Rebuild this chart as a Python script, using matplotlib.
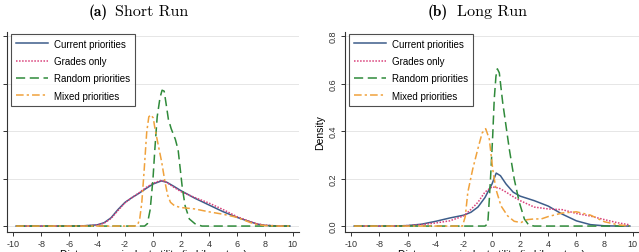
import matplotlib
matplotlib.use('Agg')
import matplotlib.pyplot as plt

plt.rcParams['font.family'] = ['Liberation Sans', 'DejaVu Sans']

# values (density by distance-equivalent utility)
series = ['Current priorities', 'Grades only', 'Random priorities', 'Mixed priorities']

# short run
sr_cur_x = [-9.8, -6, -5, -4, -3.5, -3, -2.5, -2, -1.5, -1, -0.5, 0, 0.6, 1, 1.5, 2, 3, 4, 5, 6, 7, 7.5, 8, 9, 9.8]
sr_cur_y = [0, 0, 0.001, 0.005, 0.014, 0.035, 0.07, 0.1, 0.12, 0.138, 0.158, 0.177, 0.19, 0.184, 0.167, 0.149, 0.117, 0.089, 0.061, 0.037, 0.017, 0.008, 0.003, 0.0, 0]
sr_grd_x = [-9.8, -6, -5, -4, -3.5, -3, -2.5, -2, -1.5, -1, -0.5, 0, 0.6, 1, 1.5, 2, 3, 4, 5, 6, 7, 7.5, 8, 9, 9.8]
sr_grd_y = [0, 0, 0.001, 0.004, 0.012, 0.032, 0.066, 0.098, 0.12, 0.14, 0.162, 0.18, 0.193, 0.183, 0.163, 0.145, 0.12, 0.097, 0.07, 0.04, 0.018, 0.009, 0.004, 0.0, 0]
sr_rnd_x = [-9.8, -0.6, -0.4, -0.2, 0.0, 0.14, 0.3, 0.5, 0.65, 0.8, 0.95, 1.1, 1.3, 1.6, 1.8, 1.95, 2.1, 2.3, 2.6, 3.0, 3.5, 9.8]
sr_rnd_y = [0, 0, 0.01, 0.07, 0.2, 0.33, 0.46, 0.54, 0.572, 0.568, 0.51, 0.45, 0.41, 0.365, 0.32, 0.24, 0.16, 0.085, 0.03, 0.01, 0.0, 0]
sr_mix_x = [-9.8, -1.3, -1.1, -0.95, -0.8, -0.65, -0.45, -0.3, -0.15, 0.02, 0.14, 0.38, 0.62, 0.86, 1.05, 1.25, 1.55, 2, 3, 4, 5, 6, 7, 7.5, 8, 9, 9.8]
sr_mix_y = [0, 0, 0.005, 0.03, 0.1, 0.22, 0.395, 0.46, 0.468, 0.455, 0.41, 0.34, 0.27, 0.185, 0.13, 0.1, 0.085, 0.078, 0.072, 0.06, 0.05, 0.037, 0.014, 0.006, 0.002, 0.0, 0]

# long run
lr_cur_x = [-9.8, -7, -6, -5, -4, -3, -2, -1.5, -1, -0.5, 0, 0.3, 0.6, 1, 1.5, 2, 3, 4, 5, 6, 7, 8, 9, 9.8]
lr_cur_y = [0, 0, 0.002, 0.008, 0.02, 0.034, 0.046, 0.058, 0.08, 0.12, 0.177, 0.223, 0.212, 0.177, 0.143, 0.126, 0.107, 0.084, 0.05, 0.022, 0.006, 0.001, 0, 0]
lr_grd_x = [-9.8, -7, -6, -5, -4, -3, -2, -1.5, -1, -0.5, 0, 0.5, 1, 1.5, 2, 3, 4, 5, 6, 7, 8, 9, 9.8]
lr_grd_y = [0, 0, 0.002, 0.006, 0.013, 0.022, 0.043, 0.07, 0.1, 0.143, 0.165, 0.16, 0.143, 0.124, 0.107, 0.08, 0.072, 0.069, 0.053, 0.042, 0.027, 0.013, 0.005]
lr_rnd_x = [-9.8, -0.5, -0.3, -0.19, -0.07, 0.05, 0.16, 0.28, 0.38, 0.52, 0.76, 1.0, 1.23, 1.58, 1.94, 2.3, 2.6, 3.0, 9.8]
lr_rnd_y = [0, 0, 0.01, 0.114, 0.24, 0.38, 0.535, 0.63, 0.662, 0.645, 0.52, 0.42, 0.324, 0.198, 0.1, 0.03, 0.005, 0, 0]
lr_mix_x = [-9.8, -2.1, -1.9, -1.72, -1.37, -1.01, -0.7, -0.45, -0.19, 0.05, 0.28, 0.64, 1.11, 1.58, 2.06, 2.5, 3, 3.5, 4, 5, 6, 7, 8, 9, 9.8]
lr_mix_y = [0, 0, 0.04, 0.142, 0.24, 0.324, 0.392, 0.41, 0.366, 0.24, 0.155, 0.085, 0.043, 0.02, 0.015, 0.027, 0.03, 0.03, 0.04, 0.055, 0.06, 0.046, 0.018, 0.005, 0]

colors = ['#3d5d8a', '#d9407a', '#2f8a3a', '#f0a23c']
styles = [dict(ls='-', lw=1.1),
          dict(ls=(0, (1, 1)), lw=1.1),
          dict(ls=(0, (6, 3)), lw=1.1),
          dict(ls=(0, (5, 2, 1.5, 2)), lw=1.1)]

xticks = [-10, -8, -6, -4, -2, 0, 2, 4, 6, 8, 10]
yticks = [0.0, 0.2, 0.4, 0.6, 0.8]

fig = plt.figure(figsize=(6.39, 2.53), dpi=100)
ax1 = fig.add_axes([7/639, 20/253, 292/639, 200/253])
ax2 = fig.add_axes([345/639, 20/253, 294/639, 200/253])

panels = [
    (ax1, '(a)', 'Short Run', 0.346, 0.370,
     [(sr_cur_x, sr_cur_y), (sr_grd_x, sr_grd_y), (sr_rnd_x, sr_rnd_y), (sr_mix_x, sr_mix_y)]),
    (ax2, '(b)', 'Long Run', 0.349, 0.380,
     [(lr_cur_x, lr_cur_y), (lr_grd_x, lr_grd_y), (lr_rnd_x, lr_rnd_y), (lr_mix_x, lr_mix_y)]),
]

for ax, tag, title, xa, xb, data in panels:
    for (xs, ys), name, c, st in zip(data, series, colors, styles):
        ax.plot(xs, ys, color=c, label=name, **st)
    ax.set_xlim(-10.45, 10.45)
    ax.set_ylim(-0.025, 0.817)
    ax.set_xticks(xticks)
    ax.set_xticklabels([str(t) for t in xticks])
    ax.set_yticks(yticks)
    ax.grid(True, axis='y', color='#e6e6e6', lw=0.7)
    ax.set_axisbelow(True)
    for s in ['top', 'right']:
        ax.spines[s].set_visible(False)
    for s in ['left', 'bottom']:
        ax.spines[s].set_color('#333333')
        ax.spines[s].set_linewidth(0.8)
    ax.tick_params(direction='out', length=3, width=0.7, labelsize=6.5, colors='#333333', pad=2)
    ax.set_xlabel('Distance-equivalent utility (in kilometers)', fontsize=7.5, labelpad=1)
    # panel title: bold tag + roman text
    ax.text(xa, 1.085, tag, transform=ax.transAxes, family='cmb10', fontsize=11,
            ha='right', va='baseline')
    ax.text(xb, 1.085, title, transform=ax.transAxes, family='cmr10', fontsize=11.5,
            ha='left', va='baseline')
    leg = ax.legend(loc='upper left', bbox_to_anchor=(0.003, 1.005), fontsize=7, frameon=True,
                    fancybox=False, edgecolor='#222222', handlelength=3.3, handletextpad=0.6,
                    labelspacing=0.75, borderpad=0.5, borderaxespad=0.3)
    leg.get_frame().set_linewidth(0.8)

ax1.set_yticklabels([])
ax2.set_yticklabels(['%.1f' % t for t in yticks], rotation=90, va='center')
ax2.set_ylabel('Density', fontsize=7.5, labelpad=3)

fig.savefig('out.png', dpi=100)
